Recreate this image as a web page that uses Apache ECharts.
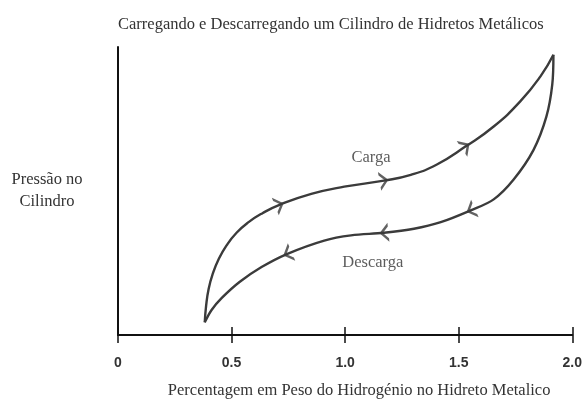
<!DOCTYPE html>
<html>
<head>
<meta charset="utf-8">
<title>Carregando e Descarregando</title>
<script src="https://cdn.jsdelivr.net/npm/echarts@6/dist/echarts.min.js"></script>
<style>
  html, body { margin: 0; padding: 0; background: #fff; }
  #main { width: 585px; height: 404px; }
</style>
</head>
<body>
<div id="main"></div>
<script>
// eixo x
var xTicks = [0, 0.5, 1.0, 1.5, 2.0];

// curva de carga (sobe da esquerda para a direita)
var cargaX = [0.382, 0.388, 0.399, 0.417, 0.443, 0.478, 0.522, 0.575, 0.636, 0.711, 0.851, 0.996, 1.171, 1.289, 1.404, 1.531, 1.654, 1.772, 1.860, 1.917];
var cargaY = [4.4, 10.2, 16.0, 21.2, 26.3, 31.1, 35.5, 39.2, 42.3, 45.2, 49.0, 51.5, 53.6, 55.6, 59.2, 65.5, 72.4, 81.2, 89.8, 97.3];

// curva de descarga (volta da direita para a esquerda)
var descargaX = [1.917, 1.912, 1.886, 1.829, 1.741, 1.654, 1.553, 1.421, 1.303, 1.171, 1.026, 0.908, 0.746, 0.632, 0.535, 0.456, 0.412, 0.382];
var descargaY = [97.3, 87.0, 75.8, 64.2, 53.9, 47.1, 43.3, 39.2, 36.9, 35.5, 34.6, 32.8, 28.2, 23.6, 18.4, 12.8, 8.7, 4.4];

// onde ficam as setas (indices nas curvas)
var cargaArrows = [9, 12, 15];
var descargaArrows = [6, 9, 12];

// rotulos das curvas
var notes = ['Carga', 'Descarga'];
var notesX = [1.114, 1.122];
var notesY = [61.6, 25.2];

var lineColor = '#3b3b3b';
var serif = '"Liberation Serif", "DejaVu Serif", serif';
var chevron = 'path://M0,0 L11,8 L0,16 L0,13 L6.9,8 L0,3 Z';

function pairs(xs, ys) {
  return xs.map(function (x, i) { return [x, ys[i]]; });
}

var chart = echarts.init(document.getElementById('main'));

var option = {
  backgroundColor: '#fff',
  animation: false,
  title: {
    text: 'Carregando e Descarregando um Cilindro de Hidretos Metálicos',
    left: 113,
    top: 11,
    textStyle: { fontFamily: serif, fontSize: 16.5, fontWeight: 'normal', color: '#333' }
  },
  grid: { left: 118, right: 11, top: 47, bottom: 64 },
  xAxis: [{
    type: 'value',
    min: 0, max: 2, interval: 0.5,
    position: 'bottom',
    splitLine: { show: false },
    axisLine: { lineStyle: { color: '#111', width: 2 } },
    axisTick: { inside: false, length: 8, lineStyle: { color: '#111', width: 1.5 } },
    axisLabel: {
      margin: 21, color: '#333', fontSize: 14, fontWeight: 'bold',
      fontFamily: '"Liberation Sans", Arial, sans-serif',
      formatter: function (v) { return v === 0 ? '0' : v.toFixed(1); }
    },
    name: 'Percentagem em Peso do Hidrogénio no Hidreto Metalico',
    nameLocation: 'middle',
    nameGap: 47,
    nameTextStyle: { fontFamily: serif, fontSize: 16.5, color: '#333', padding: [0, 0, 0, 28] }
  }, {
    // ticks por dentro, para cruzarem o eixo
    type: 'value',
    min: 0, max: 2, interval: 0.5,
    position: 'bottom',
    splitLine: { show: false },
    axisLine: { show: false },
    axisTick: { inside: true, length: 8, lineStyle: { color: '#111', width: 1.5 } },
    axisLabel: { show: false }
  }],
  yAxis: {
    type: 'value',
    min: 0, max: 100,
    splitLine: { show: false },
    axisLine: { show: true, lineStyle: { color: '#111', width: 2 } },
    axisTick: { show: false },
    axisLabel: { show: false },
    name: 'Pressão no\nCilindro',
    nameLocation: 'middle',
    nameRotate: 0,
    nameGap: 71,
    nameTextStyle: { fontFamily: serif, fontSize: 16.5, color: '#333', align: 'center', verticalAlign: 'middle', lineHeight: 22, padding: [0, 0, 6, 0] }
  },
  series: [{
    name: 'Carga',
    type: 'line',
    data: pairs(cargaX, cargaY),
    smooth: 0.5,
    showSymbol: false,
    symbol: 'none',
    lineStyle: { color: lineColor, width: 2.4 }
  }, {
    name: 'Descarga',
    type: 'line',
    data: pairs(descargaX, descargaY),
    smooth: 0.35,
    showSymbol: false,
    symbol: 'none',
    lineStyle: { color: lineColor, width: 2.4 }
  }, {
    name: 'rotulos',
    type: 'scatter',
    symbolSize: 0,
    data: pairs(notesX, notesY),
    label: {
      show: true,
      position: 'inside',
      formatter: function (p) { return notes[p.dataIndex]; },
      fontFamily: serif, fontSize: 16.5, color: '#333'
    },
    silent: true
  }]
};

chart.setOption(option);

// setas: rodadas conforme a tangente da curva em pixels
function arrowData(xs, ys, idx) {
  return idx.map(function (i) {
    var a = chart.convertToPixel({ xAxisIndex: 0, yAxisIndex: 0 }, [xs[i - 1], ys[i - 1]]);
    var b = chart.convertToPixel({ xAxisIndex: 0, yAxisIndex: 0 }, [xs[i + 1], ys[i + 1]]);
    var ang = Math.atan2(-(b[1] - a[1]), b[0] - a[0]) * 180 / Math.PI;
    return { value: [xs[i], ys[i]], symbolRotate: ang };
  });
}

var arrows = arrowData(cargaX, cargaY, cargaArrows).concat(arrowData(descargaX, descargaY, descargaArrows));

chart.setOption({
  series: option.series.concat([{
    name: 'setas',
    type: 'scatter',
    symbol: chevron,
    symbolSize: [13, 19],
    symbolKeepAspect: true,
    itemStyle: { color: lineColor },
    data: arrows,
    z: 5,
    silent: true
  }])
});

window.addEventListener('resize', function () { chart.resize(); });
</script>
</body>
</html>
